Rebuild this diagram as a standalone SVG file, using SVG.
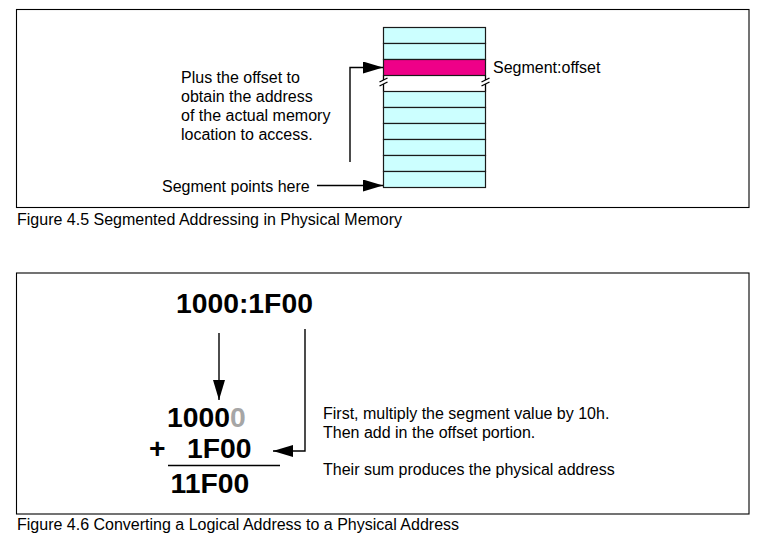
<svg xmlns="http://www.w3.org/2000/svg" width="762" height="538" viewBox="0 0 762 538">
<style>
text{font-family:"Liberation Sans",Arial,sans-serif;fill:#000}
.t{font-size:16px}
.b{font-size:28.3px;font-weight:bold}
.frame{fill:none;stroke:#000;stroke-width:1.1}
.row{fill:#ccffff;stroke:#1a1a1a;stroke-width:1.2}
.seg{fill:#ee0088;stroke:#1a1a1a;stroke-width:1.2}
.con{fill:none;stroke:#000;stroke-width:1.4}
.brk{stroke:#000;stroke-width:1.3}
</style>
<defs>
<marker id="ah" markerUnits="userSpaceOnUse" markerWidth="20" markerHeight="12" refX="20" refY="6" orient="auto">
<path d="M0,0 L20,6 L0,12 z" fill="#000"/>
</marker>
</defs>
<rect id="frame1" class="frame" x="16.5" y="9.5" width="732.5" height="198"/>
<rect id="frame2" class="frame" x="16.5" y="273" width="732.5" height="241"/>
<g id="memory">
<rect class="row" x="383.5" y="27.5" width="102" height="16"/>
<rect class="row" x="383.5" y="43.5" width="102" height="16"/>
<rect class="seg" x="383.5" y="59.5" width="102" height="16"/>
<line class="brk" x1="383.5" y1="75.5" x2="383.5" y2="80"/>
<line class="brk" x1="485.5" y1="75.5" x2="485.5" y2="80"/>
<line class="brk" x1="383.5" y1="84" x2="383.5" y2="91.5"/>
<line class="brk" x1="485.5" y1="84" x2="485.5" y2="91.5"/>
<line class="brk" x1="379.5" y1="82" x2="387.5" y2="78"/>
<line class="brk" x1="379.5" y1="86" x2="387.5" y2="82"/>
<line class="brk" x1="481.5" y1="82" x2="489.5" y2="78"/>
<line class="brk" x1="481.5" y1="86" x2="489.5" y2="82"/>
<rect class="row" x="383.5" y="91.5" width="102" height="16"/>
<rect class="row" x="383.5" y="107.5" width="102" height="16"/>
<rect class="row" x="383.5" y="123.5" width="102" height="16"/>
<rect class="row" x="383.5" y="139.5" width="102" height="16"/>
<rect class="row" x="383.5" y="155.5" width="102" height="16"/>
<rect class="row" x="383.5" y="171.5" width="102" height="16"/>
</g>
<g id="label-offset">
<text class="t" x="493" y="73">Segment:offset</text>
</g>
<g id="label-plus">
<text class="t" x="181" y="82.5">Plus the offset to</text>
<text class="t" x="181" y="101.8">obtain the address</text>
<text class="t" x="181" y="121">of the actual memory</text>
<text class="t" x="181" y="140.3">location to access.</text>
</g>
<g id="label-segment">
<text class="t" x="162" y="191.5">Segment points here</text>
</g>
<g id="caption1">
<text class="t" x="17" y="225">Figure 4.5 Segmented Addressing in Physical Memory</text>
</g>
<g id="logical">
<text class="b" x="176" y="313">1000:1F00</text>
</g>
<g id="sum">
<text class="b" x="167" y="426.7">1000<tspan fill="#a6a6a6">0</tspan></text>
<text class="b" x="149" y="458.3">+</text>
<text class="b" x="187" y="458.3">1F00</text>
<line x1="168" y1="465.5" x2="280" y2="465.5" stroke="#000" stroke-width="1.6"/>
<text class="b" x="170.5" y="493.3">11F00</text>
</g>
<g id="explain">
<text class="t" x="323" y="419">First, multiply the segment value by 10h.</text>
<text class="t" x="323" y="438.3">Then add in the offset portion.</text>
<text class="t" x="323" y="475">Their sum produces the physical address</text>
</g>
<g id="caption2">
<text class="t" x="17" y="530">Figure 4.6 Converting a Logical Address to a Physical Address</text>
</g>
<g id="connectors">
<polyline class="con" points="350,162 350,67.5 383,67.5" marker-end="url(#ah)"/>
<line class="con" x1="317" y1="185.5" x2="383" y2="185.5" marker-end="url(#ah)"/>
<line class="con" x1="219" y1="333" x2="219" y2="400" marker-end="url(#ah)"/>
<polyline class="con" points="305,329 305,451 273,451" marker-end="url(#ah)"/>
</g>
</svg>
